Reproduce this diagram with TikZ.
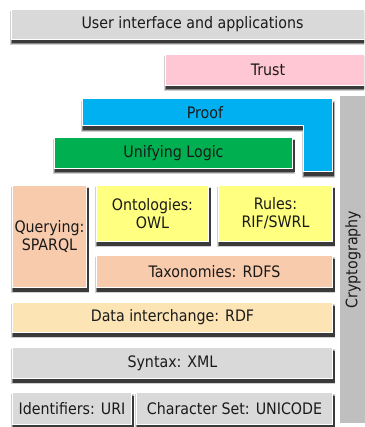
\documentclass[tikz,border=0pt]{standalone}
\usepackage{fontspec}
\setmainfont{DejaVu Sans Condensed}
\definecolor{uigray}{HTML}{D9D9D9}
\definecolor{trustpink}{HTML}{FFC6D3}
\definecolor{proofblue}{HTML}{00B0F0}
\definecolor{logicgreen}{HTML}{00B050}
\definecolor{ontoyellow}{HTML}{FFFF80}
\definecolor{salmon}{HTML}{F8CBAD}
\definecolor{datatan}{HTML}{FCE4B4}
\definecolor{cryptogray}{HTML}{BFBFBF}
\definecolor{txt}{HTML}{1A1A1A}
\definecolor{shadowcore}{HTML}{3A3A3A}
\definecolor{shadowmid}{HTML}{8A8A8A}
\definecolor{shadowhalo}{HTML}{D0D0D0}
\tikzset{
  lbl/.style={text=txt, font=\fontsize{15.8}{18}\selectfont},
  layer/.style={draw=white, line width=1pt, inner sep=0pt, anchor=north west, align=center, lbl},
}
% #1 name, #2 x, #3 y, #4 width, #5 height, #6 colour, #7 text
\newcommand\layerbox[7]{%
  \fill[shadowhalo] (#2-1,#3+2) rectangle (#2+#4+3,#3+#5+6);
  \fill[shadowmid] (#2,#3+3) rectangle (#2+#4+2,#3+#5+5);
  \node[layer, fill=#6, minimum width=#4pt, minimum height=#5pt] (#1) at (#2,#3) {#7};
  \fill[shadowcore] ([xshift=1pt]#1.south west) rectangle ([shift={(1.5pt,-3.5pt)}]#1.south east);
  \fill[shadowcore] ([yshift=-3.5pt]#1.north east) rectangle ([shift={(1.5pt,-3.5pt)}]#1.south east);}
\begin{document}
\begin{tikzpicture}[x=1pt,y=-1pt]
\useasboundingbox (0,0) rectangle (364,427);
\begin{scope}
\clip (0,0) rectangle (364,427);
\layerbox{ui}{11}{9}{362}{30}{uigray}{User interface and applications}
\layerbox{trust}{165}{54}{207}{31}{trustpink}{}
\node[lbl] (trusttext) at (268,69.5) {Trust};
\end{scope}
\fill[shadowhalo] (81,101) -- (335,101) -- (335,178) -- (302,178) -- (302,132) -- (81,132) -- cycle;
\fill[shadowmid] (82,102) -- (334,102) -- (334,177) -- (303,177) -- (303,131) -- (82,131) -- cycle;
\fill[shadowcore] (83,103) -- (334,103) -- (334,176) -- (304,176) -- (304,130) -- (83,130) -- cycle;
\fill[proofblue, draw=white, line width=1pt] (82,99) -- (332,99) -- (332,172) -- (303,172) -- (303,126) -- (82,126) -- cycle;
\node[lbl] (proof) at (205,112.5) {Proof};
\layerbox{logic}{54}{137}{238}{31}{logicgreen}{Unifying Logic}
\layerbox{query}{12}{185}{74}{102}{salmon}{Querying:\\SPARQL}
\layerbox{onto}{96}{185}{112}{56}{ontoyellow}{Ontologies:\\OWL}
\layerbox{rules}{218}{185}{114}{56}{ontoyellow}{Rules:\\RIF/SWRL}
\layerbox{tax}{96}{255}{236}{32}{salmon}{Taxonomies: RDFS}
\layerbox{data}{12}{302}{320}{30}{datatan}{Data interchange: RDF}
\layerbox{syntax}{12}{347}{320}{31}{uigray}{Syntax: XML}
\layerbox{ident}{12}{392}{119}{32}{uigray}{Identifiers: URI}
\layerbox{charset}{136}{392}{196}{32}{uigray}{Character Set: UNICODE}
\node[draw=white, line width=1pt, fill=cryptogray, rotate=90, minimum width=328pt, minimum height=27pt, inner sep=0pt, lbl] (crypto) at (353,259.5) {Cryptography};
\end{tikzpicture}
\end{document}
